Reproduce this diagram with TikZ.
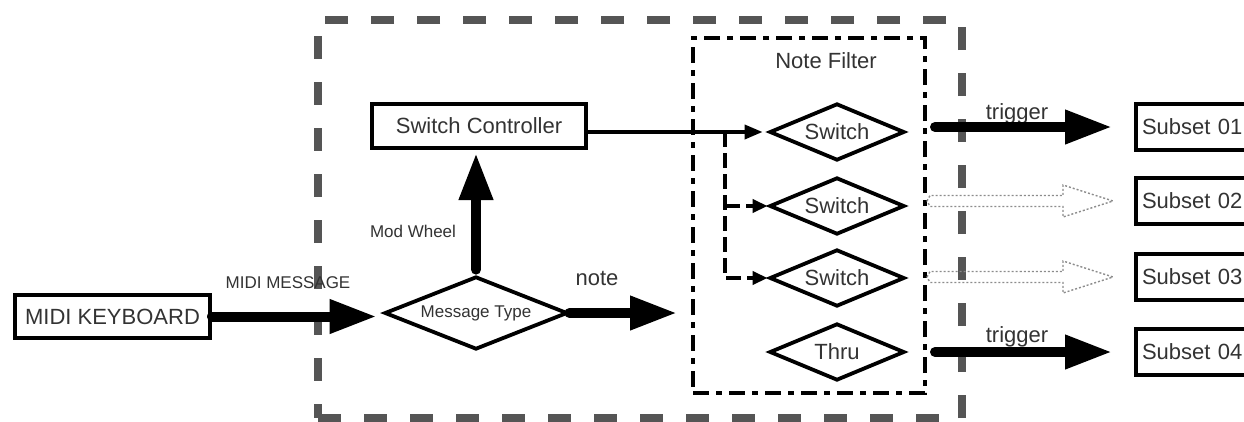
\documentclass[tikz,border=0pt]{standalone}
\usepackage{fontspec}
\setmainfont{Liberation Sans}
\usetikzlibrary{arrows.meta,shapes.geometric,calc}
\definecolor{txt}{HTML}{333333}
\definecolor{framegray}{HTML}{555555}
\definecolor{ghost}{HTML}{8C8C8C}
\tikzset{
  lbl/.style={font=\fontsize{22}{26}\selectfont, text=txt},
  smalllbl/.style={font=\fontsize{17}{20}\selectfont, text=txt},
  box/.style={draw=black, line width=4pt, rectangle, inner sep=0pt, lbl},
  dia/.style={draw=black, line width=3.8pt, diamond, inner sep=0pt, lbl},
  outerframe/.style={draw=framegray, line width=8pt, dash pattern=on 23pt off 23pt, rectangle, inner sep=0pt},
  filterframe/.style={draw=black, line width=4pt, dash pattern=on 16pt off 7pt on 6pt off 7pt, rectangle, inner sep=0pt},
  bigarrow/.style={line width=10pt, line cap=round, -{Triangle[length=47pt,width=32pt]}},
  thinarrow/.style={line width=3.6pt, -{Triangle[length=18pt,width=14pt]}},
  brancharrow/.style={line width=3.6pt, dash pattern=on 15pt off 6pt, -{Triangle[length=15pt,width=13pt]}},
  hollow/.style={draw=ghost, line width=1.4pt, dash pattern=on 2pt off 2pt, line join=miter},
}
\begin{document}
\begin{tikzpicture}[x=1pt,y=-1pt]
\useasboundingbox (0,0) rectangle (1244,421);
\fill[white] (0,0) rectangle (1244,421);
\clip (0,0) rectangle (1244,421);

% frames
\node[outerframe, minimum width=644pt, minimum height=398pt] (outer) at (640,219) {};
\node[filterframe, minimum width=232pt, minimum height=355pt] (filter) at (809,215.5) {};
\node[lbl, anchor=base] (filtertitle) at (826,68) {Note Filter};

% blocks
\node[box, minimum width=195pt, minimum height=43pt] (kb) at (112.5,316.5) {MIDI KEYBOARD};
\node[box, minimum width=214pt, minimum height=44pt] (sc) at (479,126) {Switch Controller};
\node[dia, smalllbl, shape aspect=2.5, minimum width=183pt, minimum height=73pt] (mt) at (476,313) {Message Type};

\node[dia, shape aspect=2.4, minimum width=135pt, minimum height=57pt] (sw1) at (837,132) {Switch};
\node[dia, shape aspect=2.4, minimum width=135pt, minimum height=57pt] (sw2) at (837,206) {Switch};
\node[dia, shape aspect=2.4, minimum width=135pt, minimum height=57pt] (sw3) at (837,278) {Switch};
\node[dia, shape aspect=2.4, minimum width=135pt, minimum height=57pt] (sw4) at (837,352) {Thru};

\node[box, anchor=west, minimum height=46pt, inner xsep=6pt, text width=118pt, align=left] (s1) at (1134,127) {Subset 01};
\node[box, anchor=west, minimum height=46pt, inner xsep=6pt, text width=118pt, align=left] (s2) at (1134,201) {Subset 02};
\node[box, anchor=west, minimum height=46pt, inner xsep=6pt, text width=118pt, align=left] (s3) at (1134,277) {Subset 03};
\node[box, anchor=west, minimum height=46pt, inner xsep=6pt, text width=118pt, align=left] (s4) at (1134,352) {Subset 04};

% connector labels
\node[smalllbl, anchor=base] (lblmidi) at (288,288) {MIDI MESSAGE};
\node[smalllbl, anchor=base] (lblmod) at (413,237) {Mod Wheel};
\node[lbl, anchor=base] (lblnote) at (597,285) {note};
\node[lbl, anchor=base] (lbltrig1) at (1017,119) {trigger};
\node[lbl, anchor=base] (lbltrig4) at (1017,342) {trigger};

% main flow
\draw[bigarrow, shorten >=6pt] (kb.east) -- (kb.east -| mt.west);
\draw[bigarrow, shorten >=14pt] (mt.east) -- (mt.east -| filter.west);
\draw[bigarrow, shorten <=5pt, shorten >=3pt] (mt.north) -- (mt.north |- sc.south);

% controller to switches
\draw[thinarrow, shorten >=5pt] (sc.east |- sw1.west) -- (sw1.west);
\coordinate (brx) at (725,0);
\coordinate (br) at (brx |- sw1);
\draw[brancharrow] (br) -- (br |- sw3) -- (sw3.west);
\draw[brancharrow] (br |- sw2) -- (sw2.west);

% outputs
\draw[bigarrow, shorten <=8pt, shorten >=22pt] (filter.east |- s1.west) -- (s1.west);
\draw[bigarrow, shorten <=8pt, shorten >=22pt] (filter.east |- s4.west) -- (s4.west);

\coordinate (h2) at (filter.east |- s2.west);
\coordinate (h3) at (filter.east |- s3.west);
\draw[hollow] (h2) -- ++(3,-5.5) -- ++(133,0) -- ++(0,-10.5) -- ++(50,16) -- ++(-50,16) -- ++(0,-10.5) -- ++(-133,0) -- cycle;
\draw[hollow] (h3) -- ++(3,-5.5) -- ++(133,0) -- ++(0,-10.5) -- ++(50,16) -- ++(-50,16) -- ++(0,-10.5) -- ++(-133,0) -- cycle;
\end{tikzpicture}
\end{document}
